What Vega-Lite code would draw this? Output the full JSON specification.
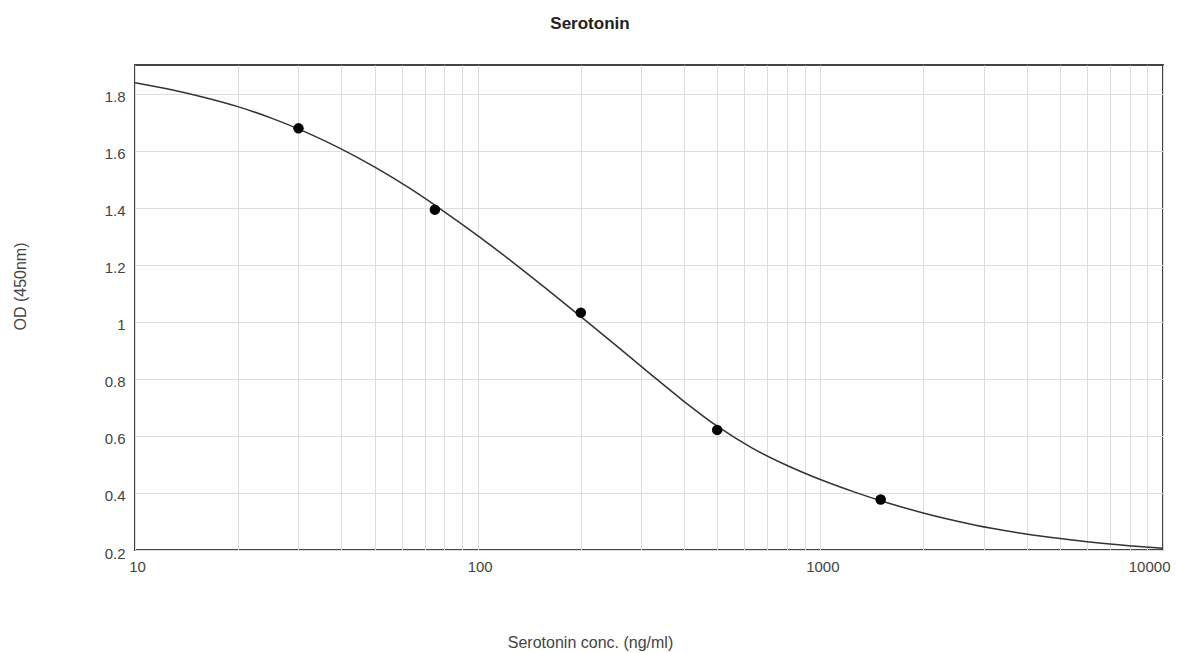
{
  "$schema": "https://vega.github.io/schema/vega-lite/v6.json",
  "width": 1028,
  "height": 485,
  "autosize": "none",
  "padding": {"left": 135, "top": 65, "right": 15, "bottom": 103},
  "background": "white",
  "config": {
    "view": {"stroke": "#444", "strokeWidth": 2},
    "font": "Liberation Sans"
  },
  "title": {
    "text": "Serotonin",
    "font": "Liberation Sans",
    "fontSize": 17,
    "fontWeight": "bold",
    "color": "#222",
    "anchor": "middle",
    "dx": -59,
    "offset": 32
  },
  "datasets": {
    "curve": [
      {"conc": 10, "od": 1.838},
      {"conc": 12.59, "od": 1.815},
      {"conc": 15.85, "od": 1.787},
      {"conc": 19.95, "od": 1.754},
      {"conc": 25.12, "od": 1.713},
      {"conc": 31.62, "od": 1.664},
      {"conc": 39.81, "od": 1.607},
      {"conc": 50.12, "od": 1.542},
      {"conc": 63.1, "od": 1.469},
      {"conc": 79.43, "od": 1.388},
      {"conc": 100, "od": 1.302},
      {"conc": 125.9, "od": 1.211},
      {"conc": 158.5, "od": 1.116},
      {"conc": 199.5, "od": 1.019},
      {"conc": 251.2, "od": 0.921},
      {"conc": 316.2, "od": 0.821},
      {"conc": 398.1, "od": 0.723},
      {"conc": 501.2, "od": 0.633},
      {"conc": 631, "od": 0.558},
      {"conc": 794.3, "od": 0.498},
      {"conc": 1000, "od": 0.447},
      {"conc": 1259, "od": 0.403},
      {"conc": 1585, "od": 0.364},
      {"conc": 1995, "od": 0.33},
      {"conc": 2512, "od": 0.301},
      {"conc": 3162, "od": 0.276},
      {"conc": 3981, "od": 0.256},
      {"conc": 5012, "od": 0.24},
      {"conc": 6310, "od": 0.226},
      {"conc": 7943, "od": 0.215},
      {"conc": 10000, "od": 0.206}
    ],
    "points": [
      {"conc": 30, "od": 1.678},
      {"conc": 75, "od": 1.393},
      {"conc": 200, "od": 1.032},
      {"conc": 500, "od": 0.621},
      {"conc": 1500, "od": 0.377}
    ]
  },
  "layer": [
    {
      "data": {"name": "curve"},
      "mark": {"type": "line", "color": "#333", "strokeWidth": 1.5, "interpolate": "monotone", "clip": true},
      "encoding": {
        "x": {
          "field": "conc",
          "type": "quantitative",
          "scale": {"type": "log", "domain": [10, 10000], "nice": false},
          "axis": {
            "title": "Serotonin conc. (ng/ml)",
            "values": [10,20,30,40,50,60,70,80,90,100,200,300,400,500,600,700,800,900,1000,2000,3000,4000,5000,6000,7000,8000,9000,10000],
            "labelExpr": "indexof([10,100,1000,10000], datum.value) >= 0 ? datum.label : ''",
            "format": "d",
            "grid": true,
            "gridColor": "#ddd",
            "gridWidth": 1,
            "ticks": false,
            "domain": false,
            "labelFont": "Liberation Sans",
            "labelFontSize": 15,
            "labelColor": "#444",
            "labelPadding": 9,
            "labelAlign": {"condition": {"test": "datum.value >= 10000", "value": "right"}, "value": "center"},
            "labelOffset": {"condition": {"test": "datum.value >= 10000", "value": 7}, "value": 2},
            "titleFont": "Liberation Sans",
            "titleFontSize": 16,
            "titleFontWeight": "normal",
            "titleColor": "#444",
            "titleX": 455,
            "titleY": 92,
            "titleBaseline": "middle"
          }
        },
        "y": {
          "field": "od",
          "type": "quantitative",
          "scale": {"domain": [0.2, 1.9], "nice": false, "zero": false},
          "axis": {
            "title": "OD (450nm)",
            "values": [0.2,0.4,0.6,0.8,1,1.2,1.4,1.6,1.8],
            "format": "~g",
            "grid": true,
            "gridColor": "#ddd",
            "gridWidth": 1,
            "ticks": false,
            "domain": false,
            "labelFont": "Liberation Sans",
            "labelFontSize": 15,
            "labelColor": "#444",
            "labelPadding": 10,
            "labelOffset": 3,
            "titleFont": "Liberation Sans",
            "titleFontSize": 16,
            "titleFontWeight": "normal",
            "titleColor": "#444",
            "titleX": -115,
            "titleY": 221,
            "titleBaseline": "middle",
            "titleAngle": -90
          }
        }
      }
    },
    {
      "data": {"name": "points"},
      "mark": {"type": "circle", "color": "#000", "opacity": 1, "size": 110},
      "encoding": {
        "x": {"field": "conc", "type": "quantitative"},
        "y": {"field": "od", "type": "quantitative"}
      }
    }
  ]
}
